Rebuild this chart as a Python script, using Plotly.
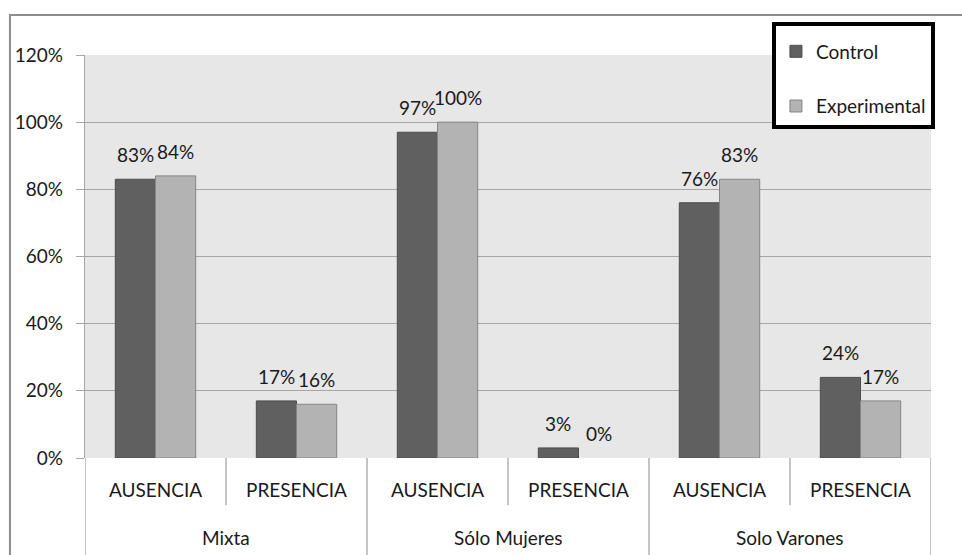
import plotly.graph_objects as go

# Survey groups (outer level) and answer categories (inner level)
groups = ["Mixta", "Sólo Mujeres", "Solo Varones"]
answers = ["AUSENCIA", "PRESENCIA"]
tick_labels = [a for g in groups for a in answers]

# Share of respondents per group/answer
control = [0.83, 0.17, 0.97, 0.03, 0.76, 0.24]
experimental = [0.84, 0.16, 1.00, 0.00, 0.83, 0.17]

series = [
    ("Control", control, "#606060", "#4d4d4d"),
    ("Experimental", experimental, "#b3b3b3", "#858585"),
]

FONT = "Lato, 'Noto Sans', sans-serif"
TEXT = "#1a1a1a"
GRID = "#a6a6a6"
xpos = list(range(len(tick_labels)))

fig = go.Figure()
for i, (name, vals, fill, edge) in enumerate(series):
    fig.add_trace(go.Bar(
        x=xpos, y=vals, name=name, legendgroup=name,
        marker=dict(color=fill,
                    line=dict(color=edge, width=[1 if v > 0 else 0 for v in vals])),
        hoverinfo="skip",
    ))

# Value labels above each bar
bargap = 0.43
half = (1 - bargap) / 4  # offset of each bar centre from its category centre
annotations = []
for i, (name, vals, _, _) in enumerate(series):
    sign = -1 if i == 0 else 1
    for x, v in zip(xpos, vals):
        annotations.append(dict(
            x=x + sign * half, y=v, xref="x", yref="y",
            text=f"{v:.0%}", showarrow=False, yanchor="bottom",
            yshift=11, font=dict(family=FONT, size=19, color=TEXT),
        ))

# Outer group labels
for gi, g in enumerate(groups):
    annotations.append(dict(
        x=gi * len(answers) + (len(answers) - 1) / 2, y=-0.1985,
        xref="x", yref="paper", text=g, showarrow=False, yanchor="middle",
        font=dict(family=FONT, size=19, color=TEXT),
    ))

# Category dividers below the axis
shapes = []
for k in range(len(tick_labels) + 1):
    full = k % len(answers) == 0
    shapes.append(dict(
        type="line", xref="x", yref="paper", x0=k - 0.5, x1=k - 0.5,
        y0=0, y1=-0.25 if full else -0.117,
        line=dict(color=GRID, width=1.3),
    ))

# Outer chart frame
shapes.append(dict(
    type="rect", xref="paper", yref="paper",
    x0=-0.0887, x1=1.2, y0=-0.4, y1=1.0993,
    line=dict(color="#8c8c8c", width=2), fillcolor="rgba(0,0,0,0)", layer="below",
))

fig.update_layout(
    width=962, height=555,
    margin=dict(l=85, r=31, t=55, b=97),
    paper_bgcolor="white", plot_bgcolor="#e7e7e7",
    barmode="group", bargap=bargap, bargroupgap=0,
    font=dict(family=FONT, size=19, color=TEXT),
    showlegend=True,
    legend=dict(
        x=0.812, y=1.082, xanchor="left", yanchor="top",
        bgcolor="white", bordercolor="black", borderwidth=4,
        font=dict(family=FONT, size=19, color=TEXT),
        title=dict(text=" ", font=dict(size=5)),
        tracegroupgap=27, traceorder="grouped",
    ),
    annotations=annotations,
    shapes=shapes,
)
fig.update_xaxes(
    range=[-0.5, len(tick_labels) - 0.5],
    tickvals=xpos, ticktext=tick_labels, ticks="",
    showgrid=False, zeroline=False, showline=False,
    ticklabelstandoff=19,
    tickfont=dict(family=FONT, size=19, color=TEXT),
)
fig.update_yaxes(
    range=[0, 1.2], dtick=0.2, tickformat=".0%",
    showgrid=True, gridcolor=GRID, gridwidth=1.3,
    zeroline=False, showline=True, linecolor=GRID, linewidth=1.3,
    ticks="outside", ticklen=8, tickcolor=GRID, tickwidth=1.3,
    ticklabelstandoff=9,
    tickfont=dict(family=FONT, size=19, color=TEXT),
)

fig.write_html("out.html")
